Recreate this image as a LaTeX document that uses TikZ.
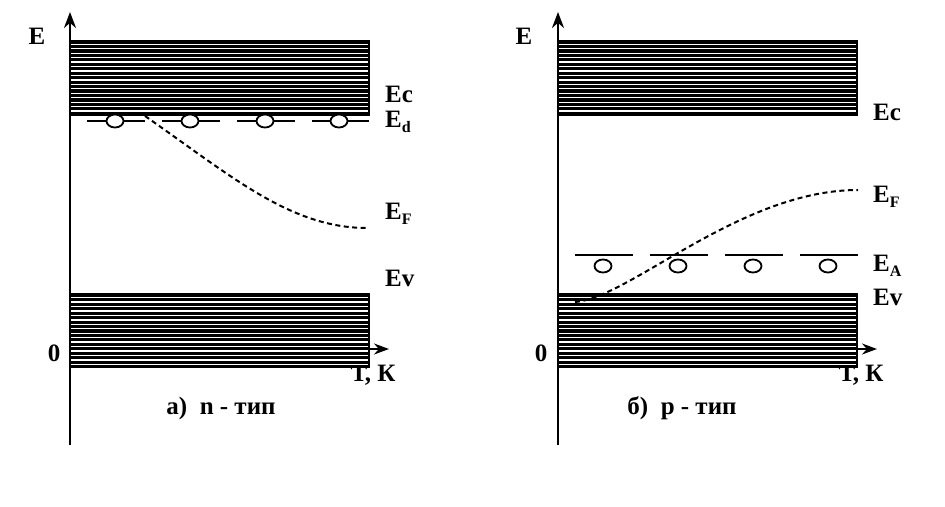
\documentclass[tikz,border=0pt]{standalone}
\usepackage{fontspec}
\setmainfont{Liberation Serif}
\usetikzlibrary{arrows.meta}
\tikzset{
  axisline/.style={line width=2.4pt, -{Stealth[length=16pt,width=12pt]}},
  haxisline/.style={line width=1.8pt, -{Stealth[length=15pt,width=11pt]}},
  bandfill/.style={fill=black},
  gapline/.style={white, line width=1.3pt},
  levelline/.style={line width=1.9pt},
  trapcirc/.style={line width=1.8pt},
  fermiline/.style={line width=2pt, dash pattern=on 5pt off 3.5pt},
  lbltxt/.style={font=\fontsize{25}{25}\selectfont\bfseries, inner sep=0pt, anchor=west},
  captxt/.style={font=\fontsize{25}{25}\selectfont\bfseries, inner sep=0pt},
}
\newcommand{\lowsub}[1]{\raisebox{-0.22em}{\fontsize{16}{16}\selectfont #1}}
\begin{document}
\begin{tikzpicture}[x=1pt,y=-1pt]
\useasboundingbox (0,0) rectangle (945,506);
% ---------- left panel ----------
\coordinate (la0) at (70,445);
\coordinate (la1) at (70,12);
\coordinate (lh0) at (70,349);
\coordinate (lh1) at (389,349);
\node[captxt] (lTK) at (373,375) {Т, К};
\fill[bandfill] (70,40) rectangle (370,116);
\foreach \k in {0,...,15} \draw[gapline] (71,{44.3+4.45*\k}) -- (368,{44.3+4.45*\k});
\fill[bandfill] (70,293) rectangle (370,368);
\foreach \k in {0,...,15} \draw[gapline] (71,{297.6+4.45*\k}) -- (368,{297.6+4.45*\k});
\draw[axisline] (la0) -- (la1);
\draw[haxisline] (lh0) -- (lh1);
% donor level
\foreach \a/\b in {87/145,162/220,237/295,312/369} \draw[levelline] (\a,121) -- (\b,121);
\foreach \c in {115,190,265,339} \draw[trapcirc, fill=white] (\c,121) ellipse [x radius=8.5, y radius=6.5];
% Fermi level
\draw[fermiline] (145,116) .. controls (230,175) and (290,228) .. (367,228);
% labels
\node[captxt] (lE) at (37,36) {E};
\node[lbltxt] (lEc) at (385,94) {Ec};
\node[lbltxt] (lEd) at (385,122) {E\lowsub{d}};
\node[lbltxt] (lEF) at (385,214) {E\lowsub{F}};
\node[lbltxt] (lEv) at (385,278) {Ev};
\node[captxt] (l0) at (54,353) {0};
\node[captxt] (lcap) at (221,408) {а)\ \ n - тип};
% ---------- right panel ----------
\coordinate (ra0) at (558,445);
\coordinate (ra1) at (558,12);
\coordinate (rh0) at (558,349);
\coordinate (rh1) at (877,349);
\node[captxt] (rTK) at (861,375) {Т, К};
\fill[bandfill] (558,40) rectangle (858,116);
\foreach \k in {0,...,15} \draw[gapline] (559,{44.3+4.45*\k}) -- (856,{44.3+4.45*\k});
\fill[bandfill] (558,293) rectangle (858,368);
\foreach \k in {0,...,15} \draw[gapline] (559,{297.6+4.45*\k}) -- (856,{297.6+4.45*\k});
\draw[axisline] (ra0) -- (ra1);
\draw[haxisline] (rh0) -- (rh1);
% acceptor level
\foreach \a/\b in {575/633,650/708,725/783,800/858} \draw[levelline] (\a,255) -- (\b,255);
\foreach \c in {603,678,753,828} \draw[trapcirc] (\c,266) ellipse [x radius=8.5, y radius=6.5];
% Fermi level
\draw[fermiline] (575,302) .. controls (630,298) and (740,190) .. (858,190);
% labels
\node[captxt] (rE) at (524,36) {E};
\node[lbltxt] (rEc) at (873,112) {Ec};
\node[lbltxt] (rEF) at (873,197) {E\lowsub{F}};
\node[lbltxt] (rEA) at (873,266) {E\lowsub{A}};
\node[lbltxt] (rEv) at (873,297) {Ev};
\node[captxt] (r0) at (541,353) {0};
\node[captxt] (rcap) at (682,408) {б)\ \ p - тип};
\end{tikzpicture}
\end{document}
